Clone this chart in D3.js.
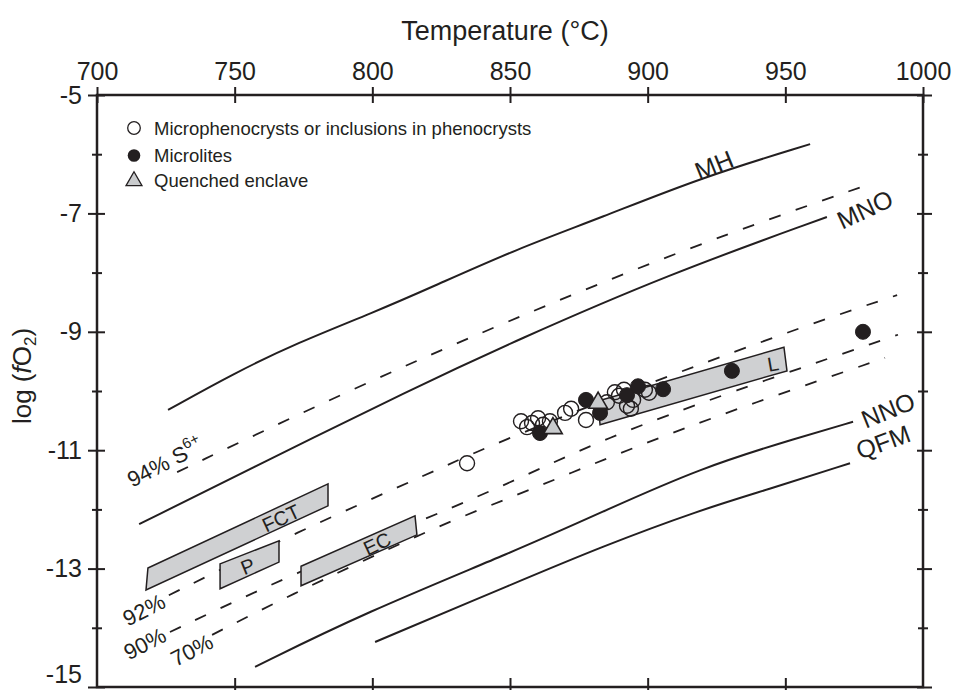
<!DOCTYPE html>
<html>
<head>
<meta charset="utf-8">
<script src="https://cdn.jsdelivr.net/npm/d3@7"></script>
<style>
  body { margin: 0; background: #fff; }
  text { font-family: "Liberation Sans", Arial, sans-serif; fill: #231f20; }
</style>
</head>
<body>
<svg id="chart" width="957" height="690"></svg>
<script>
// buffer curves, [T (°C), log fO2]
const mhLine  = [[725.8,-10.32],[749.8,-9.70],[772.6,-9.19],[800.6,-8.67],[820.9,-8.26],[852.5,-7.60],[882.7,-7.08],[919.0,-6.40],[959.0,-5.83]];
const mnoLine = [[715.3,-12.25],[760.7,-11.20],[813.7,-9.98],[852.5,-9.14],[907.0,-8.04],[965.1,-7.06]];
const nnoLine = [[757.4,-14.66],[797.0,-13.75],[852.5,-12.69],[882.7,-12.06],[919.0,-11.30],[955.3,-10.78],[974.6,-10.52]];
const qfmLine = [[801.0,-14.24],[852.5,-13.23],[882.7,-12.64],[919.0,-12.01],[943.3,-11.67],[973.5,-11.22]];

// S6+ isopleths (dashed)
const s94 = [[729.1,-11.37],[791.9,-9.98],[847.5,-8.85],[914.3,-7.58],[979.7,-6.52]];
const s92 = [[726.1,-13.45],[772.6,-12.38],[820.9,-11.39],[852.5,-10.71],[949.2,-9.02],[990.6,-8.38]];
const s90 = [[726.5,-14.07],[772.6,-13.06],[820.9,-12.13],[852.5,-11.50],[883.8,-10.81],[929.9,-10.02],[990.9,-9.05]];
const s70 = [[741.8,-14.12],[766.5,-13.53],[822.4,-12.30],[852.5,-11.76],[879.1,-11.25],[907.0,-10.74],[936.1,-10.24],[986.2,-9.44]];

// shaded fields
const fctBox = [[718.5,-12.99],[783.9,-11.57],[783.9,-11.94],[717.8,-13.36]];
const pBox   = [[744.7,-12.92],[766.1,-12.53],[766.1,-12.89],[744.7,-13.34]];
const ecBox  = [[774.1,-12.96],[815.5,-12.11],[816.2,-12.43],[774.1,-13.29]];
const lBox   = [[882.0,-10.17],[949.5,-9.26],[950.6,-9.66],[882.7,-10.57]];

// samples
const microphenocrysts = [[834.4,-11.22],[854.0,-10.51],[856.2,-10.61],[858.0,-10.54],[860.2,-10.46],[862.0,-10.57],
  [864.5,-10.51],[870.0,-10.37],[872.2,-10.30],[877.6,-10.49],[885.2,-10.19],[888.1,-10.02],[889.6,-10.08],
  [891.4,-9.98],[892.5,-10.25],[893.9,-10.30],[894.7,-10.15],[899.0,-9.98],[900.5,-10.03]];
const microlites = [[860.9,-10.71],[877.6,-10.15],[882.7,-10.37],[892.5,-10.07],[896.5,-9.92],[905.6,-9.97],[930.6,-9.66],[978.2,-9.00]];
const enclave = [[865.6,-10.63],[882.0,-10.20]];

const xTicks = [700, 750, 800, 850, 900, 950, 1000];
const yTicks = [-5, -6, -7, -8, -9, -10, -11, -12, -13, -14, -15];
const yLabels = [-5, -7, -9, -11, -13, -15];

const ink = "#231f20";
const svg = d3.select("#chart");

const x = d3.scaleLinear().domain([700, 1000]).range([97, 923]);
const y = d3.scaleLinear().domain([-5, -15]).range([95, 687]);

const line = d3.line().x(d => x(d[0])).y(d => y(d[1])).curve(d3.curveBasis);
const poly = d3.line().x(d => x(d[0])).y(d => y(d[1])).curve(d3.curveLinearClosed);

// curves
const curves = svg.append("g").attr("fill", "none").attr("stroke", ink);
[mhLine, mnoLine, nnoLine, qfmLine].forEach(l => {
  curves.append("path").attr("d", line(l)).attr("stroke-width", 2);
});
[s94, s92, s90, s70].forEach(l => {
  curves.append("path").attr("d", line(l)).attr("stroke-width", 1.8).attr("stroke-dasharray", "12,16");
});

// fields (opaque, over the isopleths)
const boxes = svg.append("g");
[fctBox, pBox, ecBox, lBox].forEach(b => {
  boxes.append("path").attr("d", poly(b))
    .attr("fill", "#cfd0d2").attr("stroke", ink).attr("stroke-width", 1.5);
});

// labels on the plot
const labels = [
  {t: "MH", T: 924.1, v: -6.18, r: -22, s: 25},
  {t: "MNO", T: 978.9, v: -6.93, r: -25, s: 25},
  {t: "NNO", T: 987.3, v: -10.32, r: -22, s: 25},
  {t: "QFM", T: 985.5, v: -10.86, r: -20, s: 25},
  {t: "FCT", T: 766.8, v: -12.15, r: -25, s: 20},
  {t: "P", T: 754.8, v: -12.96, r: -22, s: 20},
  {t: "EC", T: 801.7, v: -12.58, r: -25, s: 20},
  {t: "L", T: 945.5, v: -9.54, r: -10, s: 20},
  {t: "92%", T: 717.1, v: -13.70, r: -27, s: 22},
  {t: "90%", T: 717.4, v: -14.27, r: -27, s: 22},
  {t: "70%", T: 734.5, v: -14.38, r: -27, s: 22}
];
svg.append("g").selectAll("text").data(labels).join("text")
  .attr("transform", d => `translate(${x(d.T)},${y(d.v)}) rotate(${d.r})`)
  .attr("text-anchor", "middle").attr("dominant-baseline", "central")
  .attr("font-size", d => d.s).text(d => d.t);

const s6 = svg.append("text")
  .attr("transform", `translate(${x(724.7)},${y(-11.2)}) rotate(-27)`)
  .attr("text-anchor", "middle").attr("dominant-baseline", "central").attr("font-size", 22);
s6.append("tspan").text("94% S");
s6.append("tspan").attr("dy", -8).attr("font-size", 15).text("6+");

// points
const pts = svg.append("g");
pts.selectAll("circle.open").data(microphenocrysts).join("circle").attr("class", "open")
  .attr("cx", d => x(d[0])).attr("cy", d => y(d[1])).attr("r", 7.5)
  .attr("fill", "none").attr("stroke", ink).attr("stroke-width", 1.4);
pts.selectAll("circle.fill").data(microlites).join("circle").attr("class", "fill")
  .attr("cx", d => x(d[0])).attr("cy", d => y(d[1])).attr("r", 7.5)
  .attr("fill", ink).attr("stroke", ink).attr("stroke-width", 1);
const tri = d3.symbol().type(d3.symbolTriangle).size(150);
pts.selectAll("path.tri").data(enclave).join("path").attr("class", "tri")
  .attr("d", tri).attr("transform", d => `translate(${x(d[0])},${y(d[1])})`)
  .attr("fill", "#c9cbcd").attr("stroke", ink).attr("stroke-width", 1.6);

// legend
const legend = svg.append("g").attr("transform", "translate(134,128)");
const legendItems = ["Microphenocrysts or inclusions in phenocrysts", "Microlites", "Quenched enclave"];
const rowY = [0, 27.5, 52];
legend.append("circle").attr("cy", rowY[0]).attr("r", 6.3).attr("fill", "#fff").attr("stroke", ink).attr("stroke-width", 1.3);
legend.append("circle").attr("cy", rowY[1]).attr("r", 6.3).attr("fill", ink);
legend.append("path").attr("d", d3.symbol().type(d3.symbolTriangle).size(110))
  .attr("transform", `translate(0,${rowY[2] + 1})`).attr("fill", "#c9cbcd").attr("stroke", ink).attr("stroke-width", 1.3);
legend.selectAll("text").data(legendItems).join("text")
  .attr("x", 20).attr("y", (d, i) => rowY[i]).attr("dominant-baseline", "central")
  .attr("font-size", 18.5).text(d => d);

// axes
const fontFam = '"Liberation Sans", Arial, sans-serif';
function styleAxis(g, size) {
  g.attr("font-family", fontFam).attr("font-size", size);
  g.select(".domain").remove();
  g.selectAll(".tick line").attr("stroke", ink).attr("stroke-width", 2);
  g.selectAll(".tick text").attr("fill", ink);
}

const axTop = svg.append("g").attr("transform", "translate(0,95)")
  .call(d3.axisTop(x).tickValues(xTicks).tickSizeOuter(0).tickSizeInner(8).tickPadding(7).tickFormat(d3.format("d")));
styleAxis(axTop, 25);
axTop.selectAll(".tick line").attr("y1", -8).attr("y2", 8);

const axBottom = svg.append("g").attr("transform", "translate(0,687)")
  .call(d3.axisBottom(x).tickValues(xTicks.slice(1, -1)).tickSizeOuter(0).tickFormat(""));
styleAxis(axBottom, 25);
axBottom.selectAll(".tick line").attr("y1", -9).attr("y2", 9);

const axLeft = svg.append("g").attr("transform", "translate(97,0)")
  .call(d3.axisLeft(y).tickValues(yTicks).tickSizeOuter(0).tickSizeInner(8).tickPadding(7)
    .tickFormat(d => yLabels.includes(d) ? String(d) : ""));
styleAxis(axLeft, 25);
axLeft.selectAll(".tick line").attr("x1", d => yLabels.includes(d) ? -9 : -5).attr("x2", d => yLabels.includes(d) ? 8 : 5);
// keep the bottom label inside the page
axLeft.selectAll(".tick text").filter(d => d === -15).attr("dy", "-0.18em");

const axRight = svg.append("g").attr("transform", "translate(923,0)")
  .call(d3.axisRight(y).tickValues(yTicks).tickSizeOuter(0).tickFormat(""));
styleAxis(axRight, 25);
axRight.selectAll(".tick line").attr("x1", d => yLabels.includes(d) ? -6 : -5).attr("x2", d => yLabels.includes(d) ? 9 : 5);

svg.append("rect").attr("x", 97).attr("y", 95).attr("width", 826).attr("height", 592)
  .attr("fill", "none").attr("stroke", ink).attr("stroke-width", 2.5);

// axis titles
svg.append("text").attr("x", 505).attr("y", 40).attr("text-anchor", "middle")
  .attr("font-size", 27).text("Temperature (\u00B0C)");

const yt = svg.append("text").attr("transform", "translate(31,376) rotate(-90)")
  .attr("text-anchor", "middle").attr("font-size", 26);
yt.append("tspan").text("log (");
yt.append("tspan").attr("font-style", "italic").text("f");
yt.append("tspan").text("O");
yt.append("tspan").attr("font-size", 17).attr("dy", 5).text("2");
yt.append("tspan").attr("dy", -5).text(")");
</script>
</body>
</html>
